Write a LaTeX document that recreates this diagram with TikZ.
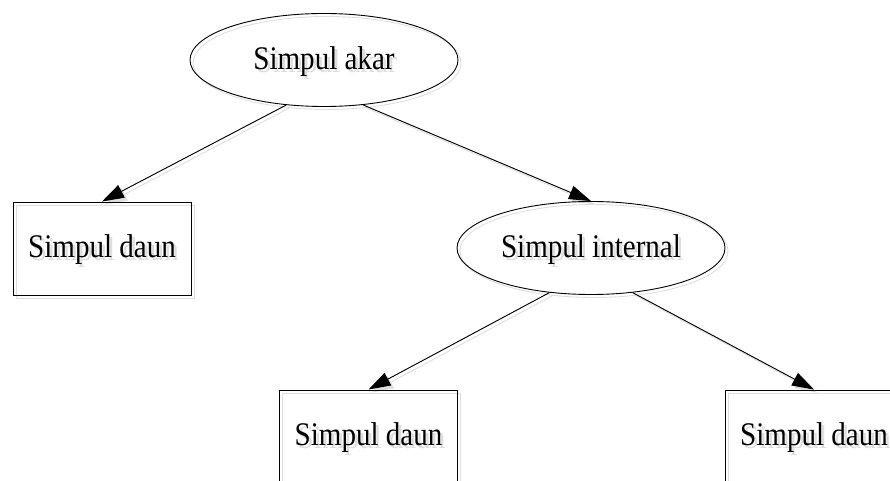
\documentclass[tikz,border=0pt]{standalone}
\usepackage{fontspec}
\setmainfont{Liberation Serif}
\newfontfamily\simpulfont[FakeStretch=0.88]{Liberation Serif}
\usetikzlibrary{shapes.geometric, arrows.meta}

\tikzset{
  simpul/.style={ellipse, draw, minimum width=268pt, minimum height=93pt,
    inner sep=0pt, text height=22pt, text depth=3pt,
    font=\simpulfont\fontsize{33}{38}\selectfont},
  daun/.style={rectangle, draw, minimum width=178pt, minimum height=93pt,
    inner sep=0pt, text height=22pt, text depth=3pt,
    font=\simpulfont\fontsize{33}{38}\selectfont},
  panah/.style={-{Triangle[length=22pt, width=14pt]}, line width=0.9pt}
}

\begin{document}
\begin{tikzpicture}[x=1pt, y=1pt, line width=0.9pt]

  \useasboundingbox (0, 0) rectangle (890, 481);

  % first pass is the grey shadow, second pass the tree itself
  \foreach \d/\tint/\nm in {3/black!13/s, 0/black/m} {
    \begin{scope}[shift={(\d, -\d)}]
      \node[simpul, draw=\tint, text=\tint] (akar\nm) at (324, 421) {Simpul akar};
      \node[daun, draw=\tint, text=\tint] (daunkiri\nm) at (102, 232.5) {Simpul daun};
      \node[simpul, draw=\tint, text=\tint] (internal\nm) at (591, 233) {Simpul internal};
      \node[daun, draw=\tint, text=\tint] (daunbawah\nm) at (368.5, 44.5) {Simpul daun};
      \node[daun, draw=\tint, text=\tint] (daunkanan\nm) at (814, 44.5) {Simpul daun};

      \draw[panah, draw=\tint, fill=\tint] (akar\nm.230) -- (daunkiri\nm.north);
      \draw[panah, draw=\tint, fill=\tint] (akar\nm.311) -- (internal\nm.north);
      \draw[panah, draw=\tint, fill=\tint] (internal\nm.227) -- (daunbawah\nm.north);
      \draw[panah, draw=\tint, fill=\tint] (internal\nm.313) -- (daunkanan\nm.north);
    \end{scope}
  }

\end{tikzpicture}
\end{document}
